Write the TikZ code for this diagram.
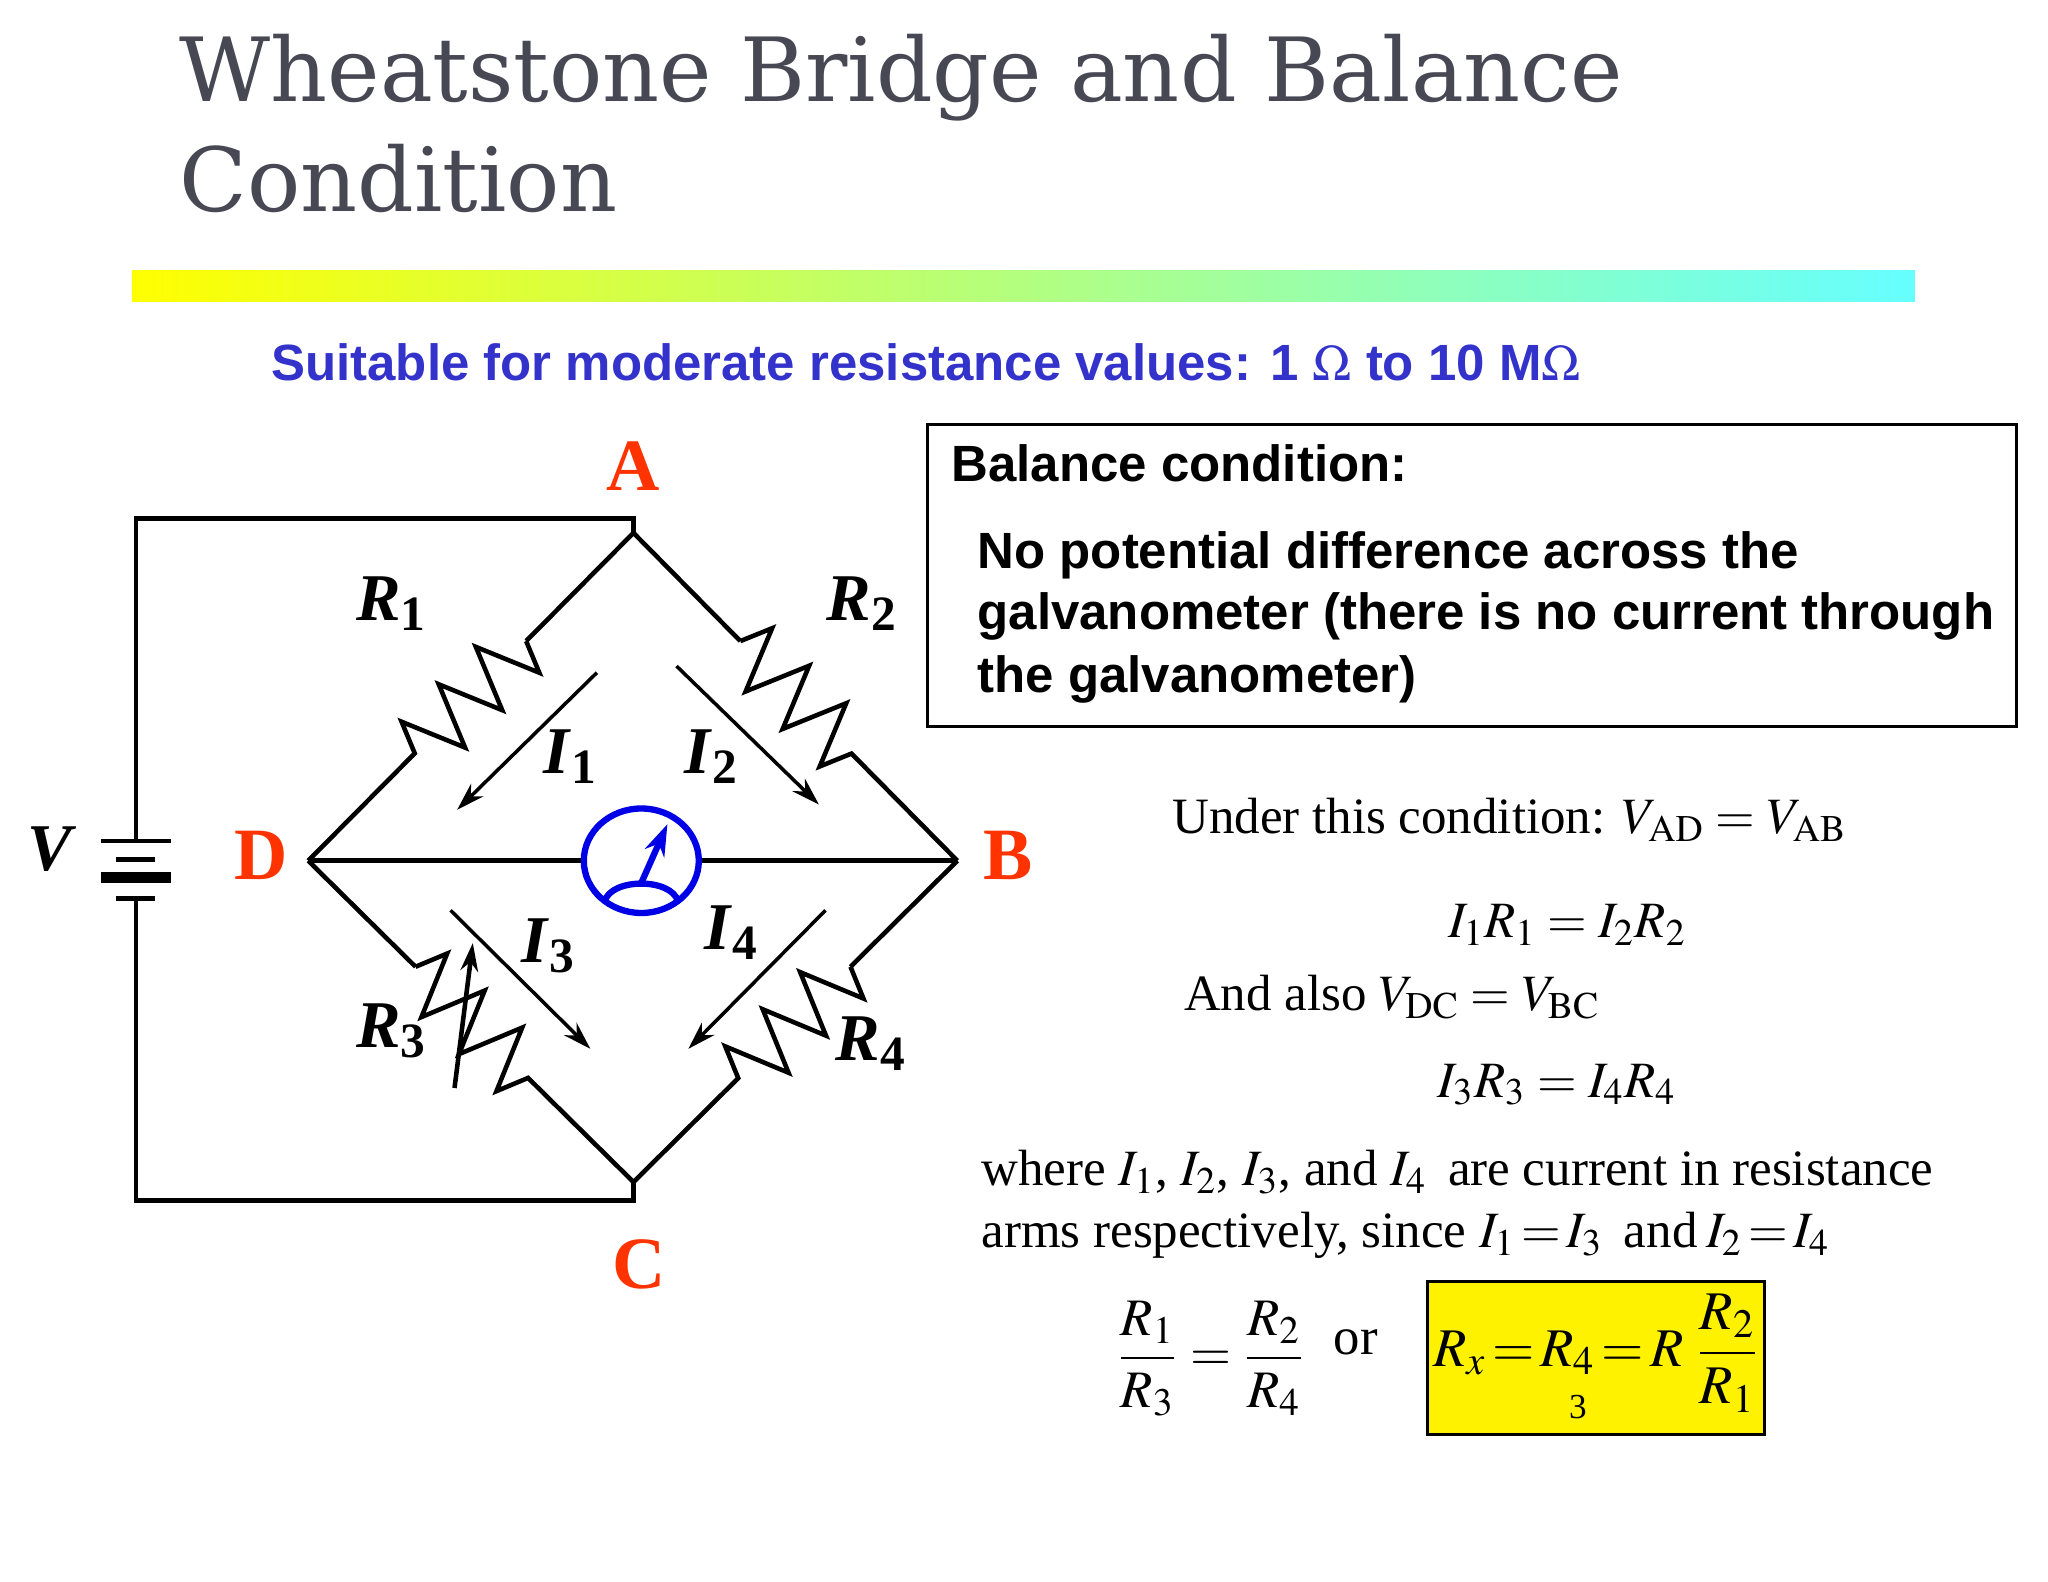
\documentclass[tikz,border=0pt]{standalone}
\usepackage{amsmath}
\usepackage{mathptmx}
\usepackage{fontspec}
\setmainfont{Liberation Serif}
\setsansfont{Liberation Sans}
\newfontfamily\titlefont{DejaVu Serif}
\usetikzlibrary{decorations.pathmorphing,arrows.meta,calc,shapes.geometric}
\definecolor{titlegray}{RGB}{72,72,84}
\definecolor{subblue}{RGB}{51,51,204}
\definecolor{nodered}{RGB}{255,51,0}
\definecolor{barcyan}{RGB}{102,255,255}
\definecolor{gblue}{RGB}{0,0,230}
\newcommand\blab[2]{\textbf{\textit{#1}\textsubscript{#2}}}
\begin{document}
\begin{tikzpicture}[x=0.01306cm,y=-0.01306cm,
  wire/.style={line width=1.3pt,black},
  res/.style={line width=1.3pt,decorate,decoration={zigzag,amplitude=9pt,segment length=15pt}},
  cur/.style={line width=1pt,-{Stealth[length=8pt,width=5pt]}},
  nlab/.style={font=\fontsize{21}{21}\selectfont\bfseries,text=nodered},
  clab/.style={font=\fontsize{19}{19}\selectfont},
  eq/.style={font=\fontsize{14.5}{14.5}\selectfont,anchor=base west,inner sep=0},
  boxt/.style={font=\sffamily\bfseries\fontsize{14.5}{14.5}\selectfont,anchor=base west,inner sep=0}]
\useasboundingbox[fill=white] (0,0) rectangle (1568,1211);
% title
\node[anchor=base west,inner sep=0,text=titlegray,font=\titlefont\fontsize{25.2}{25}\selectfont] (t1) at (137,78) {Wheatstone Bridge and Balance};
\node[anchor=base west,inner sep=0,text=titlegray,font=\titlefont\fontsize{25.2}{25}\selectfont] (t2) at (137,162) {Condition};
\shade[left color=yellow,right color=barcyan] (101,207) rectangle (1466,231);
\node[anchor=base,inner sep=0,text=subblue,font=\sffamily\bfseries\fontsize{14.5}{14.5}\selectfont] (sub) at (709,291) {Suitable for moderate resistance values: 1 $\Omega$ to 10 M$\Omega$};
% box
\draw[line width=0.8pt] (710,325) rectangle (1544,556);
\node[boxt] (b0) at (728,369) {Balance condition:};
\node[boxt] (b1) at (748,435) {No potential difference across the};
\node[boxt] (b2) at (748,482) {galvanometer (there is no current through};
\node[boxt] (b3) at (748,530) {the galvanometer)};
% circuit nodes
\coordinate (A) at (485,408);
\coordinate (D) at (236,659);
\coordinate (B) at (733,659);
\coordinate (C) at (485,905);
\coordinate (TL) at (104,397);
\coordinate (BL) at (104,919);
\coordinate (bt) at (104,644);
\coordinate (bb) at (104,688);
\draw[wire] (A) -- (485,397) -- (TL) -- (bt);
\draw[wire] (bb) -- (BL) -- (485,919) -- (C);
\draw[line width=1.3pt] (77,644) -- (131,644);
\draw[line width=1.3pt] (89,658) -- (119,658);
\draw[line width=3pt] (77,672) -- (131,672);
\draw[line width=1.3pt] (89,688) -- (119,688);
% arms
\draw[wire] (A) -- ($(A)!0.33!(D)$);
\draw[res] ($(A)!0.33!(D)$) -- ($(A)!0.72!(D)$);
\draw[wire] ($(A)!0.72!(D)$) -- (D);
\draw[wire] (A) -- ($(A)!0.33!(B)$);
\draw[res] ($(A)!0.33!(B)$) -- ($(A)!0.72!(B)$);
\draw[wire] ($(A)!0.72!(B)$) -- (B);
\draw[wire] (D) -- ($(D)!0.33!(C)$);
\draw[res] ($(D)!0.33!(C)$) -- ($(D)!0.72!(C)$);
\draw[wire] ($(D)!0.72!(C)$) -- (C);
\draw[wire] (B) -- ($(B)!0.33!(C)$);
\draw[res] ($(B)!0.33!(C)$) -- ($(B)!0.72!(C)$);
\draw[wire] ($(B)!0.72!(C)$) -- (C);
\draw[cur,line width=1.3pt] (348,833) -- (362,722);
% galvanometer
\node[draw=gblue,line width=1.8pt,ellipse,minimum width=1.15cm,minimum height=1.045cm,inner sep=0] (G) at (491,659) {};
\draw[wire] (D) -- (G.west);
\draw[wire] (G.east) -- (B);
\draw[gblue,line width=1.8pt] (463,690) .. controls (468,672) and (514,672) .. (519,690);
\draw[gblue,line width=1.8pt,-{Stealth[length=9pt,width=6pt]}] (491,676) -- (511,631);
% currents
\draw[cur] (457,515) -- (350,620);
\draw[cur] (518,510) -- (627,616);
\draw[cur] (345,697) -- (452,803);
\draw[cur] (632,697) -- (527,803);
% labels
\node[nlab] (lA) at (485,357) {A};
\node[nlab] (lB) at (772,655) {B};
\node[nlab] (lC) at (489,968) {C};
\node[nlab] (lD) at (200,655) {D};
\node[clab] (lV) at (40,650) {\textbf{\textit{V}}};
\node[clab] (lR1) at (300,462) {\blab{R}{1}};
\node[clab] (lR2) at (660,462) {\blab{R}{2}};
\node[clab] (lR3) at (300,789) {\blab{R}{3}};
\node[clab] (lR4) at (667,799) {\blab{R}{4}};
\node[clab] (lI1) at (437,579) {\blab{I}{1}};
\node[clab] (lI2) at (545,579) {\blab{I}{2}};
\node[clab] (lI3) at (420,724) {\blab{I}{3}};
\node[clab] (lI4) at (560,714) {\blab{I}{4}};
% equations
\node[eq] (e1) at (897,638) {Under this condition: $V_{\mathrm{AD}} = V_{\mathrm{AB}}$};
\node[eq,anchor=base] (e2) at (1200,718) {$I_1R_1 = I_2R_2$};
\node[eq] (e3) at (906,774) {And also $V_{\mathrm{DC}} = V_{\mathrm{BC}}$};
\node[eq,anchor=base] (e4) at (1192,840) {$I_3R_3 = I_4R_4$};
\node[eq] (e5) at (751,908) {where $I_1$, $I_2$, $I_3$, and $I_4$\, are current in resistance};
\node[eq] (e6) at (751,955) {arms respectively, since $I_1\,{=}\,I_3$\, and\,$I_2\,{=}\,I_4$};
\node[eq,anchor=center,font=\fontsize{15}{15}\selectfont] (f1) at (927,1040) {$\dfrac{R_1}{R_3} = \dfrac{R_2}{R_4}$};
\node[eq,anchor=center,font=\fontsize{15}{15}\selectfont] (or) at (1038,1028) {or};
\node[draw,line width=0.8pt,fill=yellow,minimum width=3.37cm,minimum height=1.53cm,inner sep=0] (yb) at (1222,1039.5) {};
\node[eq,anchor=center,font=\fontsize{15.5}{15.5}\selectfont] (f2) at (1222,1036) {$R_{x}\,{=}\,R_{4}\,{=}\,R\;\dfrac{R_2}{R_1}$};
\node[eq,anchor=center,font=\fontsize{10}{10}\selectfont] (f3) at (1208,1077) {3};
\end{tikzpicture}
\end{document}
